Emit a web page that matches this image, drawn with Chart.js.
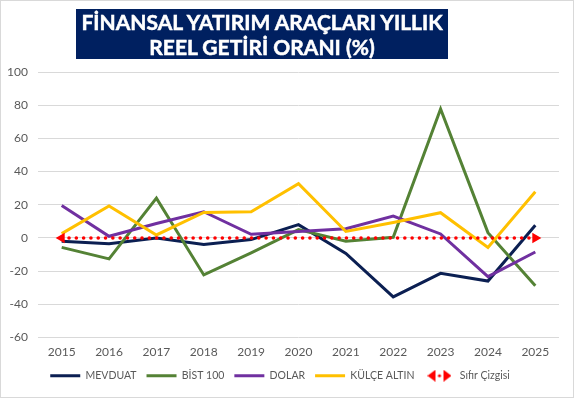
<!DOCTYPE html>
<html>
<head>
<meta charset="utf-8">
<script src="https://cdn.jsdelivr.net/npm/chart.js@4"></script>
<style>
  html, body { margin: 0; padding: 0; background: #fff; }
  #frame {
    position: relative;
    width: 572px; height: 396px;
    border: 1px solid #d9d9d9;
    background: #fff;
  }
  #title {
    position: absolute;
    left: 75px; top: 8px; width: 372px; height: 50px;
    background: #002060;
    color: #fff;
    font-family: Lato, "Open Sans", sans-serif;
    font-weight: bold;
    font-size: 21px;
    line-height: 25px;
    text-align: center;
    -webkit-text-stroke: 0.5px #fff;
    box-sizing: border-box;
  }
  #chart { position: absolute; left: 0; top: 0; }
</style>
</head>
<body>
<div id="frame">
  <canvas id="chart" width="572" height="396"></canvas>
  <div id="title">FİNANSAL YATIRIM ARAÇLARI YILLIK<br>REEL GETİRİ ORANI (%)</div>
</div>
<script>
// ---- data ----
const years = ['2015', '2016', '2017', '2018', '2019', '2020', '2021', '2022', '2023', '2024', '2025'];
const mevduat = [-2, -3.5, 0, -4, -1, 8, -9.3, -35.5, -21.3, -26, 7.7];
const bist100 = [-5.7, -12.6, 24, -22.3, -9, 5, -2, 0.4, 77.7, 3.2, -28.8];
const dolar = [19.5, 1, 8.7, 15.8, 2.2, 3.9, 5.5, 13.2, 2.4, -23.3, -8.5];
const kulceAltin = [2.6, 19.3, 1.8, 15.4, 15.8, 32.7, 3.9, 9.3, 15.2, -5.7, 27.8];
const sifir = [0, 0, 0, 0, 0, 0, 0, 0, 0, 0, 0];

const FONT = 'Lato, "Open Sans", sans-serif';
const GREY = '#595959';

// legend glyph for the zero line: ◀ • ▶
function zeroGlyph() {
    const c = document.createElement('canvas');
    c.width = 24; c.height = 12;
    const g = c.getContext('2d');
    g.fillStyle = '#ff0000';
    g.beginPath(); g.moveTo(0, 6); g.lineTo(8, 0); g.lineTo(8, 12); g.closePath(); g.fill();
    g.beginPath(); g.moveTo(24, 6); g.lineTo(16, 0); g.lineTo(16, 12); g.closePath(); g.fill();
    g.beginPath(); g.arc(12, 6, 1.6, 0, Math.PI * 2); g.fill();
    return c;
}

function lineSet(label, data, color, order) {
    return {
        label, data, order,
        borderColor: color,
        backgroundColor: color,
        borderWidth: 3,
        pointRadius: 0,
        tension: 0,
        pointStyle: 'line'
    };
}

const zeroImg = zeroGlyph();

new Chart(document.getElementById('chart'), {
    type: 'line',
    data: {
        labels: years,
        datasets: [
            lineSet('MEVDUAT', mevduat, '#0b1f52', 4),
            lineSet('BİST 100', bist100, '#548235', 3),
            lineSet('DOLAR', dolar, '#7030a0', 2),
            lineSet('KÜLÇE ALTIN', kulceAltin, '#ffc000', 1),
            {
                label: 'Sıfır Çizgisi',
                data: sifir,
                order: 0,
                borderColor: '#ff0000',
                backgroundColor: '#ff0000',
                borderWidth: 3.5,
                borderDash: [0.1, 7.2],
                borderCapStyle: 'round',
                pointStyle: 'triangle',
                pointRadius: years.map((y, i) => (i === 0 || i === years.length - 1) ? 6 : 0),
                pointRotation: years.map((y, i) => i === 0 ? -90 : 90),
                pointBorderWidth: 0
            }
        ]
    },
    options: {
        responsive: false,
        animation: false,
        layout: { padding: { top: 71, left: 0, right: 14, bottom: 6 } },
        plugins: {
            tooltip: { enabled: false },
            legend: {
                position: 'bottom',
                labels: {
                    usePointStyle: true,
                    pointStyleWidth: 30,
                    padding: 10,
                    color: GREY,
                    font: { family: FONT, size: 10.5 },
                    sort: (a, b) => a.datasetIndex - b.datasetIndex,
                    generateLabels(chart) {
                        const items = Chart.defaults.plugins.legend.labels.generateLabels(chart);
                        items.forEach(it => {
                            if (it.datasetIndex === 4) {
                                it.pointStyle = zeroImg;
                                it.rotation = 0;
                            } else {
                                it.pointStyle = 'line';
                                it.lineWidth = 3;
                                it.lineDash = [];
                            }
                        });
                        return items;
                    }
                }
            }
        },
        scales: {
            x: {
                offset: true,
                grid: { display: false, drawTicks: false },
                border: { display: false },
                ticks: { color: GREY, font: { family: FONT, size: 12 }, padding: 7 },
                afterFit(scale) { scale.height = 23; }
            },
            y: {
                min: -60,
                max: 100,
                ticks: { stepSize: 20, color: GREY, font: { family: FONT, size: 12 }, padding: 10 },
                grid: { color: '#d9d9d9', lineWidth: 1, drawTicks: false },
                border: { display: false },
                afterFit(scale) { scale.width = 37; }
            }
        }
    }
});
</script>
</body>
</html>
